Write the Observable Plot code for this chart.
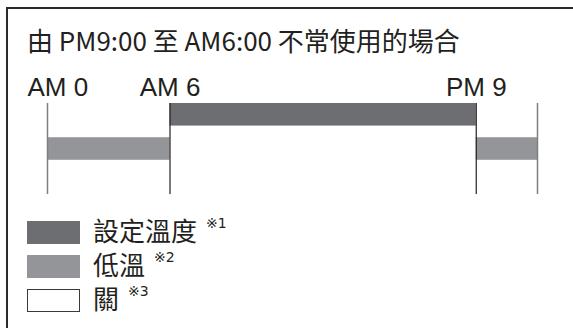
<!DOCTYPE html>
<html>
<head>
<meta charset="utf-8">
<script src="https://cdn.jsdelivr.net/npm/d3@7"></script>
<script src="https://cdn.jsdelivr.net/npm/@observablehq/plot@0.6"></script>
<style>
html, body { margin: 0; padding: 0; background: #fff; }
#page { position: relative; width: 573px; height: 328px; overflow: hidden; background: #fff; }
#chart { position: absolute; left: 0; top: 0; }
#frame { position: absolute; left: 6px; top: 7px; right: -10px; bottom: -10px;
  border-top: 2px solid #2b2b2b; border-left: 2px solid #2b2b2b; pointer-events: none; }
#title { position: absolute; left: 27px; top: 27px; font-family: "Noto Sans CJK TC", sans-serif;
  font-size: 26px; line-height: 26px; color: #231f20; white-space: nowrap; }
.swatch { position: absolute; left: 27px; width: 53px; height: 22.5px; box-sizing: border-box; }
.label { position: absolute; left: 93px; font-family: "Noto Sans CJK TC", sans-serif;
  font-size: 26px; line-height: 26px; color: #231f20; white-space: nowrap; }
.note { position: absolute; font-family: "DejaVu Sans", sans-serif;
  font-size: 14px; line-height: normal; white-space: nowrap; color: #231f20; }
</style>
</head>
<body>
<div id="page">
  <div id="chart"></div>
  <div id="title"></div>
  <div id="legend"></div>
  <div id="frame"></div>
</div>
<script>
// ---- data ----
const titleText = "由 PM9:00 至 AM6:00 不常使用的場合";
const tickHours = [0, 6, 21];
const tickLabels = ["AM 0", "AM 6", "PM 9"];
const dayEnds = [0, 24];
const switchHours = [6, 21];
const modes = ["設定溫度", "低溫", "關"];
const modeNotes = ["※1", "※2", "※3"];
const modeColors = ["#6d6e71", "#949598", "#ffffff"];
const segStart = [0, 6, 21];
const segEnd = [6, 21, 24];
const segMode = ["低溫", "設定溫度", "低溫"];

// ---- build ----
const segments = segStart.map((s, i) => ({start: s, end: segEnd[i], mode: segMode[i]}));
const ticks = tickHours.map((h, i) => ({hour: h, label: tickLabels[i]}));

const textStyle = {fontFamily: "Liberation Sans, Arial, sans-serif", fontSize: 26, fill: "#231f20",
  frameAnchor: "top", lineAnchor: "bottom", dy: -7.5};

const chart = Plot.plot({
  width: 573,
  height: 200,
  marginLeft: 47,
  marginRight: 36,
  marginTop: 103,
  marginBottom: 6,
  x: {domain: [0, 24], axis: null},
  y: {domain: modes, axis: null, paddingInner: 0.34, paddingOuter: 0, round: false},
  color: {domain: modes, range: modeColors},
  style: {background: "transparent", overflow: "visible"},
  marks: [
    Plot.barX(segments, {x1: "start", x2: "end", y: "mode", fill: "mode"}),
    Plot.ruleX(dayEnds, {stroke: "#7f7f7f", strokeWidth: 1.5}),
    Plot.ruleX(switchHours, {stroke: "#231f20", strokeWidth: 1.2}),
    Plot.text(ticks.slice(0, 1), {x: "hour", text: "label", textAnchor: "start", dx: -20, ...textStyle}),
    Plot.text(ticks.slice(1), {x: "hour", text: "label", textAnchor: "middle", ...textStyle})
  ]
});
document.getElementById("chart").appendChild(chart);

document.getElementById("title").textContent = titleText;

const legend = document.getElementById("legend");
modes.forEach((m, i) => {
  const top = 221 + 34 * i;
  const sw = document.createElement("div");
  sw.className = "swatch";
  sw.style.top = top + "px";
  sw.style.background = modeColors[i];
  if (modeColors[i] === "#ffffff") sw.style.border = "1.5px solid #3a3a3a";
  legend.appendChild(sw);
  const lb = document.createElement("div");
  lb.className = "label";
  lb.style.top = (top - 4.3) + "px";
  lb.textContent = m;
  legend.appendChild(lb);
  const w = lb.getBoundingClientRect().width;
  const note = document.createElement("div");
  note.className = "note";
  note.textContent = modeNotes[i];
  note.style.left = (93 + w + 9) + "px";
  note.style.top = (top - 6) + "px";
  legend.appendChild(note);
});
</script>
</body>
</html>
